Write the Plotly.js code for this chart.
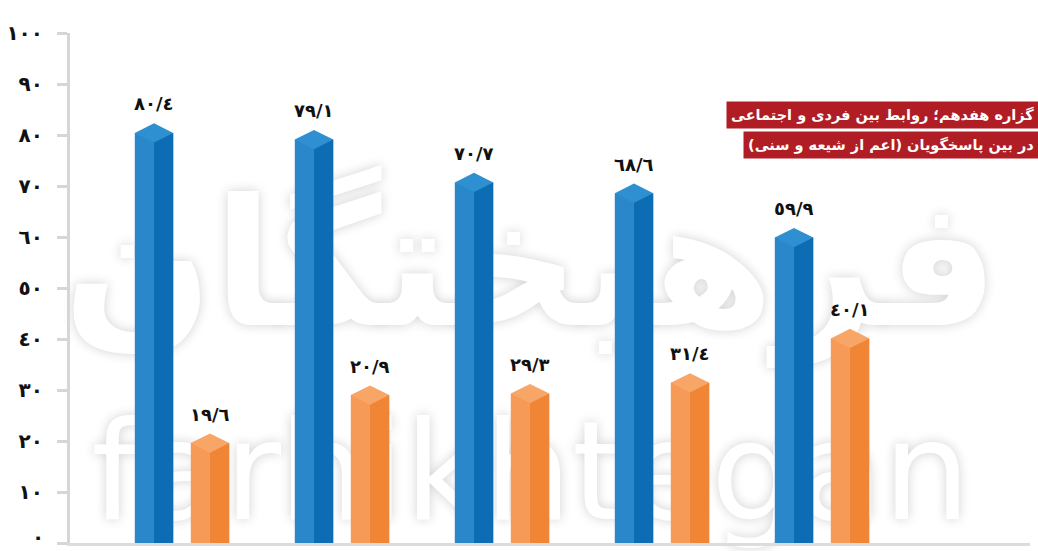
<!DOCTYPE html>
<html>
<head>
<meta charset="utf-8">
<script src="https://cdn.plot.ly/plotly-3.0.1.min.js"></script>
<style>html,body{margin:0;padding:0;background:#fff;}#chart{width:1038px;height:551px;}</style>
</head>
<body>
<div id="chart"></div>
<script>
// ---- data ----
const groups = [0, 1, 2, 3, 4];
const blueValues = [80.4, 79.1, 70.7, 68.6, 59.9];
const orangeValues = [19.6, 29.0, 29.3, 31.4, 40.1];
const blueLabels = ['٨٠/٤', '٧٩/١', '٧٠/٧', '٦٨/٦', '٥٩/٩'];
const orangeLabels = ['١٩/٦', '٢٠/٩', '٢٩/٣', '٣١/٤', '٤٠/١'];
const yTickValues = [0, 10, 20, 30, 40, 50, 60, 70, 80, 90, 100];
const yTickLabels = ['٠', '١٠', '٢٠', '٣٠', '٤٠', '٥٠', '٦٠', '٧٠', '٨٠', '٩٠', '١٠٠'];
const titleLine1 = 'گزاره هفدهم؛ روابط بین فردی و اجتماعی';
const titleLine2 = 'در بین پاسخگویان (اعم از شیعه و سنی)';
const watermarkFa = 'فرهیختگان';
const watermarkEn = 'farhikhtegan';

// ---- styling ----
const blueOff = -0.175, orangeOff = 0.175, barW = 0.24;
const arabicFont = 'DejaVu Sans, Noto Sans, sans-serif';

function faceTraces(values, centerOff, leftColor, rightColor, topColor) {
  return [
    {type: 'bar', x: groups, y: values, width: barW, offset: centerOff - barW / 2,
     marker: {color: leftColor, line: {width: 0}}, hoverinfo: 'skip', showlegend: false},
    {type: 'bar', x: groups, y: values, width: barW / 2, offset: centerOff,
     marker: {color: rightColor, line: {width: 0}}, hoverinfo: 'skip', showlegend: false},
    {type: 'scatter', mode: 'markers', x: groups.map(g => g + centerOff), y: values,
     marker: {symbol: 'diamond-wide', size: 27.5, color: topColor, line: {width: 0}},
     hoverinfo: 'skip', showlegend: false, cliponaxis: false}
  ];
}

const data = [
  ...faceTraces(blueValues, blueOff, '#2a87ca', '#0c6cb4', '#2f90d1'),
  ...faceTraces(orangeValues, orangeOff, '#f59a57', '#f08535', '#f8a668')
];

const labelFont = {family: arabicFont, size: 18, color: '#111', weight: 'bold'};
const tickFont = {family: arabicFont, size: 20, color: '#111', weight: 'bold'};
const annotations = [];
groups.forEach((g, i) => {
  annotations.push({x: g + blueOff, y: blueValues[i], text: blueLabels[i], showarrow: false,
    yshift: 29, yanchor: 'middle', font: labelFont});
  annotations.push({x: g + orangeOff, y: orangeValues[i], text: orangeLabels[i], showarrow: false,
    yshift: 29, yanchor: 'middle', font: labelFont});
});
const titleFont = {family: arabicFont, size: 14.5, color: '#ffffff', weight: 'bold'};
annotations.push({xref: 'paper', yref: 'paper', x: 1.009, y: 0.839, xanchor: 'right', yanchor: 'middle',
  text: titleLine1, showarrow: false, bgcolor: '#b01d24', borderpad: 4, font: titleFont});
annotations.push({xref: 'paper', yref: 'paper', x: 1.009, y: 0.780, xanchor: 'right', yanchor: 'middle',
  text: titleLine2, showarrow: false, bgcolor: '#b01d24', borderpad: 4, font: titleFont});
// zero tick label sits on the bottom edge: drawn as an annotation anchored inside the picture
annotations.push({xref: 'paper', yref: 'y', x: -0.026, y: yTickValues[0], xanchor: 'right', yanchor: 'bottom',
  yshift: -7, text: yTickLabels[0], showarrow: false, borderpad: 0, font: tickFont});

const wmShadow = '0px 0px 12px rgba(0,0,0,0.18)';
const shapes = [
  {type: 'rect', xref: 'paper', yref: 'paper', x0: -0.03, x1: 0.99, y0: 0.30, y1: 0.84, layer: 'below',
   line: {width: 0}, fillcolor: 'rgba(0,0,0,0)',
   label: {text: watermarkFa, textposition: 'middle center',
     font: {family: arabicFont, size: 176, color: '#ffffff', weight: 'bold', shadow: wmShadow}}},
  {type: 'rect', xref: 'paper', yref: 'paper', x0: -0.03, x1: 0.99, y0: 0.0, y1: 0.32, layer: 'below',
   line: {width: 0}, fillcolor: 'rgba(0,0,0,0)',
   label: {text: watermarkEn, textposition: 'middle center',
     font: {family: 'DejaVu Sans, sans-serif', size: 138, color: '#ffffff', weight: 'normal', shadow: wmShadow}}}
];

const yTickText = yTickLabels.map((t, i) => i === 0 ? '' : t);

const layout = {
  width: 1038, height: 551,
  margin: {l: 70, r: 8, t: 33, b: 8, pad: 0},
  paper_bgcolor: '#ffffff', plot_bgcolor: '#ffffff',
  barmode: 'overlay', showlegend: false,
  xaxis: {range: [-0.7, 5.3], showticklabels: false, ticks: '', showgrid: false, zeroline: false,
    showline: true, linecolor: '#dcdcdc', linewidth: 3, fixedrange: true},
  yaxis: {range: [0, 100], tickvals: yTickValues, ticktext: yTickText, showgrid: false, zeroline: false,
    showline: true, linecolor: '#d6d6d6', linewidth: 3, ticks: 'outside', ticklen: 10, tickwidth: 3,
    tickcolor: '#d6d6d6', ticklabelstandoff: 10,
    tickfont: tickFont, fixedrange: true},
  annotations: annotations,
  shapes: shapes
};

Plotly.newPlot('chart', data, layout, {displayModeBar: false, staticPlot: true});
</script>
</body>
</html>
